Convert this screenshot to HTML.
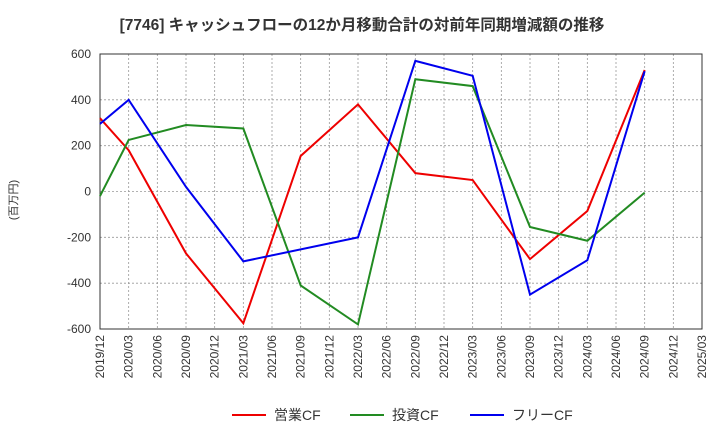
<!DOCTYPE html>
<html><head><meta charset="utf-8"><style>
body{margin:0;background:#fff;font-family:"Liberation Sans","Noto Sans CJK JP",sans-serif;}
</style></head><body>
<svg width="720" height="440" xmlns="http://www.w3.org/2000/svg">
<text x="362" y="30" text-anchor="middle" font-size="15.5" font-weight="bold" fill="#333" font-family="Liberation Sans, Noto Sans CJK JP, sans-serif">[7746]  キャッシュフローの12か月移動合計の対前年同期増減額の推移</text>
<text transform="translate(17,200) rotate(-90)" text-anchor="middle" font-size="11" fill="#333" font-family="Liberation Sans, Noto Sans CJK JP, sans-serif">(百万円)</text>
<g id="grid"></g><g id="axes"></g><g id="series"></g><g id="legend"></g>
</svg>
<script>
const categories=["2019/12","2020/03","2020/06","2020/09","2020/12","2021/03","2021/06","2021/09","2021/12","2022/03","2022/06","2022/09","2022/12","2023/03","2023/06","2023/09","2023/12","2024/03","2024/06","2024/09","2024/12","2025/03"];
const yTicks=[600,400,200,0,-200,-400,-600];
const opIdx=[0,1,3,5,7,9,11,13,15,17,19];
const opCF=[320,180,-270,-575,155,380,80,50,-295,-85,530];
const invIdx=[0,1,3,5,7,9,11,13,15,17,19];
const invCF=[-20,225,290,275,-410,-580,490,460,-155,-215,-5];
const freeIdx=[0,1,3,5,9,11,13,15,17,19];
const freeCF=[295,400,20,-305,-200,570,505,-450,-300,525];
const seriesNames=["営業CF","投資CF","フリーCF"];
const NS="http://www.w3.org/2000/svg";
const L=100,R=702,T=54,B=329;
const x=i=>L+(R-L)*i/(categories.length-1);
const y=v=>T+(B-T)*(600-v)/1200;
function mk(t,a,p){const e=document.createElementNS(NS,t);for(const k in a)e.setAttribute(k,a[k]);p.appendChild(e);return e;}
const grid=document.getElementById('grid'),axes=document.getElementById('axes'),ser=document.getElementById('series'),leg=document.getElementById('legend');
yTicks.forEach(v=>{
 const l=mk('line',{x1:L,x2:R,y1:y(v),y2:y(v),stroke:'#999','stroke-dasharray':'2,2','stroke-width':0.8},grid);
 
 
 const t=mk('text',{x:L-9,y:y(v)+4,'text-anchor':'end','font-size':12,fill:'#333'},axes);
 t.textContent=v;
 
 
});
categories.forEach((c,i)=>{
 const l=mk('line',{x1:x(i),x2:x(i),y1:T,y2:B,stroke:'#999','stroke-dasharray':'2,2','stroke-width':0.8},grid);
 
 
 const t=mk('text',{transform:`translate(${x(i)+4},${B+6}) rotate(-90)`,'text-anchor':'end','font-size':12,fill:'#333'},axes);
 t.textContent=c;
 
 
});
const frame=mk('rect',{x:L,y:T,width:R-L,height:B-T,fill:'none',stroke:'#333','stroke-width':1},axes);


const defs=[[opIdx,opCF,'#ee0000','operating-cf-line'],[invIdx,invCF,'#228b22','investing-cf-line'],[freeIdx,freeCF,'#0000ee','free-cf-line']];
defs.forEach(([idx,vals,col,name],k)=>{
 const p=mk('polyline',{points:vals.map((v,j)=>x(idx[j])+','+y(v)).join(' '),fill:'none',stroke:col,'stroke-width':2},ser);
 
 
 const lx=[232,350,470][k];
 const ll=mk('line',{x1:lx,x2:lx+34,y1:415,y2:415,stroke:col,'stroke-width':2},leg);
 
 
 const lt=mk('text',{x:lx+42,y:420,'font-size':14,fill:'#333'},leg);
 lt.textContent=seriesNames[k];
 
 
});
</script>
</body></html>
